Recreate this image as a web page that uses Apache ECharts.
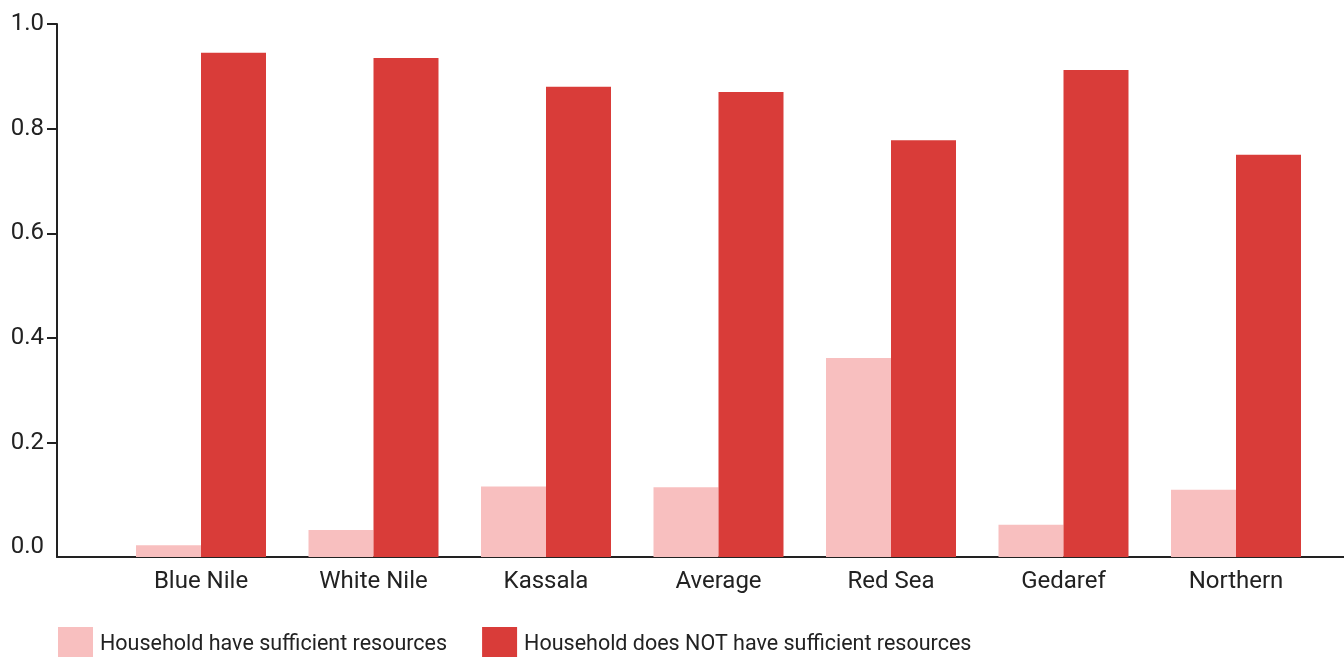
<!DOCTYPE html>
<html>
<head>
<meta charset="utf-8">
<script src="https://cdn.jsdelivr.net/npm/echarts@6/dist/echarts.min.js"></script>
<style>
html,body{margin:0;padding:0;background:#fff;}
#chart{width:1344px;height:657px;}
</style>
</head>
<body>
<div id="chart"></div>
<script>
var categories = ['Blue Nile', 'White Nile', 'Kassala', 'Average', 'Red Sea', 'Gedaref', 'Northern'];
var sufficient = [0.004, 0.033, 0.116, 0.115, 0.362, 0.043, 0.110];
var notSufficient = [0.945, 0.935, 0.880, 0.870, 0.778, 0.912, 0.750];
var yTicks = [0, 0.2, 0.4, 0.6, 0.8, 1.0];
var seriesNames = ['Household have sufficient resources', 'Household does NOT have sufficient resources'];
var colors = ['#f8bfbf', '#d93c39'];

var Y_MIN = -0.0185, Y_MAX = 1.0;
var BAR_FRAC = 0.3768;
var TEXT = '#222222';
var FONT = 'Roboto';

function toPairs(arr) { return arr.map(function (v, i) { return [i, v]; }); }

function makeRender(side, color) {
  return function (params, api) {
    var i = api.value(0), v = api.value(1);
    var top = api.coord([i, v]);
    var band = api.size([1, 0])[0];
    var w = band * BAR_FRAC;
    var cs = params.coordSys;
    var bottom = cs.y + cs.height;
    var x = side < 0 ? top[0] - w : top[0];
    return {
      type: 'rect',
      shape: { x: x, y: top[1], width: w, height: bottom - top[1] },
      style: { fill: color }
    };
  };
}

var chart = echarts.init(document.getElementById('chart'), null, { renderer: 'canvas' });
chart.setOption({
  backgroundColor: '#ffffff',
  animation: false,
  textStyle: { fontFamily: FONT },
  grid: [
    { left: 57, right: 0, top: 24, bottom: 100, containLabel: false },
    { left: 114.75, width: 1207.5, top: 24, bottom: 100, containLabel: false }
  ],
  legend: {
    left: 58, top: 627, padding: 0,
    itemWidth: 35, itemHeight: 30, itemGap: 35,
    icon: 'rect',
    formatter: '{t|{name}}',
    textStyle: {
      fontSize: 21.5, color: TEXT, fontFamily: FONT,
      rich: { t: { fontSize: 21.5, color: TEXT, fontFamily: FONT, padding: [6, 0, 0, 2] } }
    },
    data: seriesNames
  },
  xAxis: [
    {
      gridIndex: 0, type: 'value', min: 0, max: 1,
      axisLine: { show: true, onZero: false, lineStyle: { color: TEXT, width: 2 } },
      axisTick: { show: false }, axisLabel: { show: false }, splitLine: { show: false }
    },
    {
      gridIndex: 1, type: 'category', data: categories, boundaryGap: true,
      axisLine: { show: false, onZero: false }, axisTick: { show: false }, splitLine: { show: false },
      axisLabel: { fontSize: 24, color: TEXT, fontFamily: FONT, margin: 13 }
    }
  ],
  yAxis: [
    {
      gridIndex: 0, type: 'value', min: Y_MIN, max: Y_MAX,
      axisLine: { show: true, onZero: false, lineStyle: { color: TEXT, width: 2 } },
      axisTick: { show: true, length: 10, lineStyle: { color: TEXT, width: 2 }, customValues: yTicks.slice(1) },
      axisLabel: {
        fontSize: 24, color: TEXT, fontFamily: FONT, margin: 13,
        customValues: yTicks,
        formatter: function (v) { return Number(v).toFixed(1); }
      },
      splitLine: { show: false }
    },
    { gridIndex: 1, type: 'value', min: Y_MIN, max: Y_MAX, show: false, splitLine: { show: false } }
  ],
  series: [
    {
      name: seriesNames[0], type: 'custom', xAxisIndex: 1, yAxisIndex: 1,
      itemStyle: { color: colors[0] },
      encode: { x: 0, y: 1 },
      renderItem: makeRender(-1, colors[0]),
      data: toPairs(sufficient)
    },
    {
      name: seriesNames[1], type: 'custom', xAxisIndex: 1, yAxisIndex: 1,
      itemStyle: { color: colors[1] },
      encode: { x: 0, y: 1 },
      renderItem: makeRender(1, colors[1]),
      data: toPairs(notSufficient)
    }
  ]
});
</script>
</body>
</html>
